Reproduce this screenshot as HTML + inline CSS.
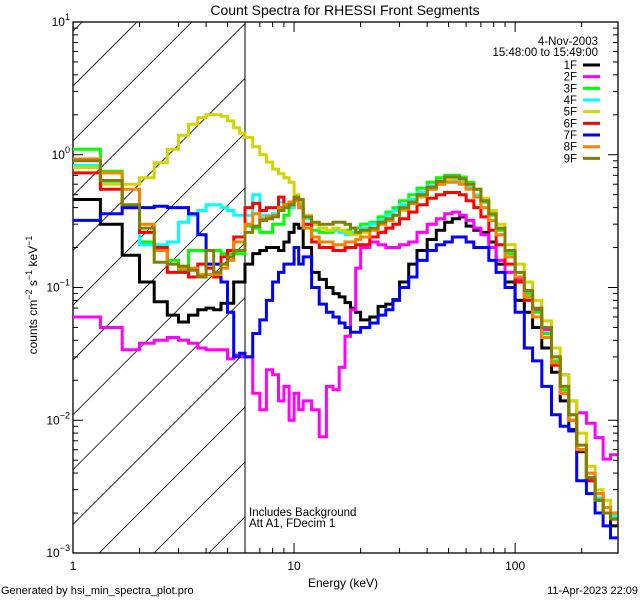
<!DOCTYPE html>
<html><head><meta charset="utf-8"><style>
html,body{margin:0;padding:0;background:#fff;}
svg text{font-family:"Liberation Sans",sans-serif;fill:#000;}
</style></head><body>
<svg id="chart" width="640" height="600" xmlns="http://www.w3.org/2000/svg">
<rect width="640" height="600" fill="#fff"/>
<text x="345" y="15" font-size="14" text-anchor="middle">Count Spectra for RHESSI Front Segments</text>
<text transform="translate(37,295) rotate(-90)" font-size="12" text-anchor="middle">counts cm<tspan dy="-5" font-size="9">−2</tspan><tspan dy="5"> s</tspan><tspan dy="-5" font-size="9">−1</tspan><tspan dy="5"> keV</tspan><tspan dy="-5" font-size="9">−1</tspan></text>
<text x="343" y="587" font-size="12" text-anchor="middle">Energy (keV)</text>
<text x="1" y="594" font-size="11">Generated by hsi_min_spectra_plot.pro</text>
<text x="638" y="594" font-size="11" text-anchor="end">11-Apr-2023 22:09</text>
<text x="249" y="516" font-size="11.5">Includes Background</text>
<text x="249" y="527" font-size="11.5">Att A1, FDecim 1</text>
<text x="598" y="45" font-size="11.5" text-anchor="end">4-Nov-2003</text>
<text x="598" y="56" font-size="11.5" text-anchor="end">15:48:00 to 15:49:00</text>
<g id="hatch"></g>
<g id="axes"></g>
<g id="series"></g>
<g id="legend"></g>
</svg>
<script>
const edges = [1,1.33,1.67,2,2.33,2.67,3,3.33,3.67,4,4.33,4.67,5,5.33,5.67,6,6.5,7,7.5,8,8.5,9,9.5,10,10.5,11,12,13,14,15,16,17,18,19,20,22,24,26,28,30,33,36,40,44,48,52,56,60,65,70,76,82,90,100,110,120,132,146,160,175,190,210,230,250,270,290];
const seriesNames = ["1F","2F","3F","4F","5F","6F","7F","8F","9F"];
const seriesColors = ["#000000","#ff00ff","#00ff00","#00ffff","#d4d400","#ff0000","#0000ff","#ff8000","#808000"];
const s1F = [.46,.30,.175,.11,.078,.062,.055,.062,.068,.07,.068,.076,.076,.11,.11,.15,.18,.19,.2,.2,.19,.22,.26,.3,.28,.2,.13,.115,.1,.09,.085,.077,.07,.065,.057,.06,.072,.075,.081,.11,.15,.19,.23,.27,.31,.33,.34,.29,.27,.26,.22,.15,.11,.08,.065,.05,.035,.023,.014,.0085,.0058,.0035,.0028,.002,.0016];
const s2F = [.06,.05,.034,.038,.04,.042,.04,.038,.035,.034,.034,.034,.029,.031,.03,.03,.016,.012,.024,.022,.014,.018,.01,.016,.012,.014,.012,.0075,.018,.017,.025,.043,.068,.14,.2,.22,.21,.2,.2,.21,.22,.26,.3,.33,.36,.37,.35,.32,.28,.25,.2,.16,.13,.115,.09,.068,.048,.03,.022,.014,.0114,.0095,.0074,.0051,.0055];
const s3F = [1.1,.75,.41,.22,.19,.16,.135,.19,.19,.19,.19,.18,.18,.18,.18,.29,.28,.26,.26,.3,.3,.35,.4,.45,.42,.3,.27,.26,.26,.27,.26,.27,.26,.28,.3,.31,.34,.37,.4,.45,.5,.56,.62,.67,.7,.7,.68,.62,.55,.44,.35,.27,.18,.12,.09,.065,.045,.028,.017,.011,.006,.0035,.0025,.0022,.002];
const s4F = [.83,.61,.4,.21,.21,.22,.31,.35,.38,.42,.42,.4,.38,.35,.35,.35,.5,.35,.35,.36,.44,.42,.4,.45,.42,.33,.3,.28,.27,.27,.26,.25,.26,.26,.28,.3,.32,.35,.38,.42,.46,.52,.58,.62,.64,.64,.62,.57,.5,.4,.32,.25,.17,.12,.085,.06,.042,.027,.016,.01,.006,.0035,.0026,.0022,.0019];
const s5F = [.8,.6,.6,.67,.87,1.1,1.4,1.7,1.9,2.0,2.0,1.95,1.8,1.6,1.45,1.35,1.15,1.0,.88,.78,.72,.67,.62,.5,.45,.35,.3,.28,.27,.28,.27,.26,.25,.25,.26,.28,.3,.32,.35,.38,.43,.48,.55,.62,.66,.67,.65,.6,.55,.47,.38,.3,.21,.15,.11,.08,.056,.035,.022,.014,.008,.0045,.003,.0025,.002];
const s6F = [.73,.55,.4,.26,.2,.13,.13,.12,.15,.14,.12,.17,.19,.24,.24,.4,.43,.38,.4,.4,.48,.42,.44,.47,.4,.3,.22,.2,.2,.19,.19,.2,.2,.21,.21,.24,.26,.28,.3,.33,.37,.42,.47,.5,.52,.52,.5,.45,.4,.34,.27,.21,.15,.11,.08,.06,.042,.026,.016,.01,.006,.0035,.0025,.002,.0018];
const s7F = [.32,.36,.40,.40,.41,.40,.40,.36,.25,.15,.15,.11,.065,.03,.032,.03,.045,.057,.08,.11,.13,.15,.15,.2,.15,.17,.1,.075,.065,.06,.054,.05,.046,.046,.05,.054,.062,.068,.08,.1,.12,.16,.19,.21,.22,.24,.24,.22,.2,.2,.16,.13,.1,.065,.035,.028,.018,.011,.009,.0083,.0035,.0028,.002,.0016,.0013];
const s8F = [.93,.73,.55,.3,.19,.15,.14,.14,.125,.125,.125,.14,.16,.22,.22,.3,.36,.33,.34,.35,.4,.42,.44,.45,.4,.28,.24,.22,.22,.21,.21,.22,.22,.23,.24,.27,.3,.32,.35,.39,.43,.49,.55,.6,.62,.62,.6,.55,.48,.4,.32,.25,.17,.12,.085,.06,.042,.027,.016,.01,.006,.004,.0028,.0022,.002];
const s9F = [.9,.64,.42,.28,.155,.15,.145,.135,.12,.19,.13,.15,.17,.19,.19,.26,.29,.32,.33,.34,.38,.4,.42,.48,.46,.34,.31,.3,.3,.31,.31,.3,.28,.26,.27,.28,.31,.33,.35,.4,.44,.5,.57,.63,.68,.68,.66,.6,.55,.45,.36,.28,.19,.13,.095,.07,.05,.03,.018,.011,.0065,.0037,.0025,.002,.0018];
const seriesData = [s1F,s2F,s3F,s4F,s5F,s6F,s7F,s8F,s9F];
const xTickLabels = ["1","10","100"];
const yTickExps = ["1","0","−1","−2","−3"];

const NS="http://www.w3.org/2000/svg";
const L=73,R=618,T=22,B=553;
const xMin=1,xMax=292,yMin=-3,yMax=1;
function xs(e){return L+(Math.log10(e)-Math.log10(xMin))/(Math.log10(xMax)-Math.log10(xMin))*(R-L);}
function ys(v){return B-(Math.log10(v)-yMin)/(yMax-yMin)*(B-T);}
function mk(tag,attrs,parent){const el=document.createElementNS(NS,tag);for(const k in attrs)el.setAttribute(k,attrs[k]);parent.appendChild(el);return el;}

// hatching
const hatch=document.getElementById('hatch');
const cp=mk('clipPath',{id:'hclip'},document.getElementById('chart'));
mk('rect',{x:L,y:T,width:xs(6)-L,height:B-T},cp);
hatch.setAttribute('clip-path','url(#hclip)');
for(let c=159-54.8*3;c<900;c+=54.8){
  const ln=mk('line',{x1:c-T,y1:T,x2:c-B,y2:B,stroke:'#000','stroke-width':0.8},hatch);
  
  
}
const axes=document.getElementById('axes');
const vl=mk('line',{x1:xs(6),y1:T,x2:xs(6),y2:B,stroke:'#000','stroke-width':1},axes);


const frame=mk('rect',{x:L,y:T,width:R-L,height:B-T,fill:'none',stroke:'#000','stroke-width':1.3},axes);


// x ticks
for(let d=0;d<3;d++){for(let m=1;m<10;m++){const e=m*Math.pow(10,d);if(e>xMax)break;const x=xs(e);const len=m===1?10:5;
  const t1=mk('line',{x1:x,y1:B,x2:x,y2:B-len,stroke:'#000'},axes);
  
  
  const t2=mk('line',{x1:x,y1:T,x2:x,y2:T+len,stroke:'#000'},axes);
  
  
}}
xTickLabels.forEach((lab,i)=>{const t=mk('text',{x:xs(Math.pow(10,i)),y:B+17,'font-size':12,'text-anchor':'middle'},axes);t.textContent=lab;
  
  });
// y ticks
for(let d=-3;d<=1;d++){for(let m=1;m<10;m++){const v=m*Math.pow(10,d);if(v>10)break;const y=ys(v);const len=m===1?10:5;
  const t1=mk('line',{x1:L,y1:y,x2:L+len,y2:y,stroke:'#000'},axes);
  
  
  const t2=mk('line',{x1:R,y1:y,x2:R-len,y2:y,stroke:'#000'},axes);
  
  
}}
yTickExps.forEach((ex,i)=>{const y=ys(Math.pow(10,1-i));const t=mk('text',{x:L-3,y:y+4,'font-size':12,'text-anchor':'end'},axes);
  t.innerHTML='10<tspan dy="-6" font-size="9">'+ex+'</tspan>';
  
  });
// series
const sg=document.getElementById('series');
const sclip=mk('clipPath',{id:'sclip'},document.getElementById('chart'));
mk('rect',{x:L,y:T,width:R-L,height:B-T},sclip);
sg.setAttribute('clip-path','url(#sclip)');
seriesData.forEach((vals,si)=>{
  let d='';
  vals.forEach((v,i)=>{const x0=xs(edges[i]),x1=xs(edges[i+1]),y=ys(v);d+=(i===0?'M':'L')+x0.toFixed(1)+','+y.toFixed(1)+'L'+x1.toFixed(1)+','+y.toFixed(1);});
  const p=mk('path',{d:d,fill:'none',stroke:seriesColors[si],'stroke-width':3,'stroke-linejoin':'miter'},sg);
  
  
});
// legend
const lg=document.getElementById('legend');
seriesNames.forEach((n,i)=>{const y=65+i*11.67;
  const t=mk('text',{x:577,y:y+4,'font-size':11.5,'text-anchor':'end'},lg);t.textContent=n;
  
  
  const l=mk('line',{x1:583,y1:y,x2:600,y2:y,stroke:seriesColors[i],'stroke-width':3},lg);
  
  
});
</script>
</body></html>
